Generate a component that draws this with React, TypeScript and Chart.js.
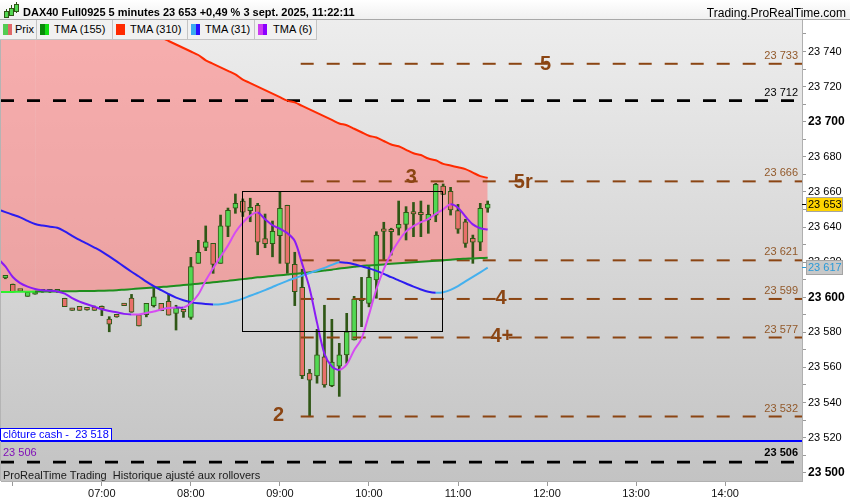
import React, { useEffect, useRef } from 'react';
import { Chart, registerables } from 'chart.js';

Chart.register(...registerables);

const FONT = "'Liberation Sans', Arial, Helvetica, sans-serif";

// 5-minute bar index: 0 = 06:00, 12 = 07:00 ...
const barIndex = [-2, -1, 0, 1, 2, 3, 4, 5, 6, 7, 8, 9, 10, 11, 12, 13, 14, 15, 16, 17, 18, 19, 20, 21, 22, 23, 24, 25, 26, 27, 28, 29, 30, 31, 32, 33, 34, 35, 36, 37, 38, 39, 40, 41, 42, 43, 44, 45, 46, 47, 48, 49, 50, 51, 52, 53, 54, 55, 56, 57, 58, 59, 60, 61, 62, 63, 64];

const opens = [23612.5, 23611.0, 23607.4, 23603.9, 23600.5, 23601.7, 23603.0, 23603.2, 23603.0, 23599.4, 23593.7, 23594.8, 23593.0, 23594.4, 23593.6, 23587.6, 23589.0, 23596.3, 23599.5, 23590.0, 23590.0, 23595.2, 23596.5, 23597.7, 23590.8, 23592.0, 23588.5, 23619.3, 23628.4, 23630.7, 23619.3, 23640.4, 23650.7, 23654.8, 23649.3, 23652.4, 23633.4, 23630.5, 23635.0, 23652.4, 23618.7, 23605.6, 23556.7, 23555.1, 23566.0, 23549.6, 23560.7, 23567.1, 23575.6, 23598.8, 23596.5, 23609.8, 23637.9, 23638.7, 23639.3, 23641.5, 23647.8, 23647.4, 23644.0, 23646.8, 23663.3, 23660.3, 23649.3, 23643.0, 23633.6, 23631.3, 23650.8];
const highs = [23613.0, 23611.5, 23607.5, 23604.0, 23602.8, 23603.0, 23603.5, 23603.5, 23603.5, 23599.4, 23593.7, 23594.8, 23593.2, 23595.0, 23595.0, 23588.9, 23589.2, 23596.3, 23601.6, 23590.0, 23596.5, 23606.0, 23596.5, 23601.7, 23595.4, 23592.7, 23622.7, 23632.4, 23640.6, 23630.7, 23646.8, 23650.8, 23658.8, 23656.0, 23656.4, 23653.5, 23647.4, 23643.4, 23660.1, 23652.4, 23625.6, 23615.9, 23558.9, 23581.7, 23595.4, 23587.4, 23573.7, 23590.8, 23600.5, 23611.3, 23617.4, 23637.3, 23642.7, 23639.3, 23654.8, 23651.6, 23654.0, 23654.8, 23652.5, 23664.9, 23664.5, 23662.6, 23652.9, 23644.4, 23635.4, 23653.5, 23654.8];
const lows = [23610.8, 23610.5, 23603.0, 23603.3, 23600.5, 23601.7, 23602.8, 23602.7, 23602.8, 23594.6, 23592.5, 23592.5, 23592.6, 23592.5, 23589.5, 23580.3, 23588.6, 23595.2, 23591.4, 23583.6, 23588.8, 23594.4, 23592.3, 23589.8, 23581.3, 23588.5, 23587.4, 23619.3, 23626.5, 23613.6, 23619.3, 23634.5, 23647.8, 23646.0, 23643.0, 23624.2, 23628.2, 23623.0, 23619.3, 23613.6, 23595.2, 23553.6, 23531.9, 23551.0, 23548.7, 23549.0, 23543.5, 23562.3, 23575.6, 23583.2, 23594.5, 23599.4, 23621.2, 23624.0, 23635.4, 23632.6, 23634.5, 23634.5, 23636.4, 23643.0, 23658.6, 23646.8, 23636.4, 23628.4, 23619.3, 23626.5, 23648.4];
const closes = [23611.2, 23611.0, 23603.0, 23603.5, 23602.8, 23603.0, 23603.2, 23603.0, 23603.3, 23594.6, 23592.5, 23592.5, 23592.8, 23592.5, 23593.4, 23584.6, 23588.8, 23595.2, 23591.4, 23583.6, 23596.5, 23600.2, 23592.3, 23589.8, 23594.0, 23591.6, 23617.4, 23625.6, 23631.5, 23618.7, 23640.6, 23649.5, 23653.5, 23648.4, 23651.2, 23631.3, 23630.5, 23637.5, 23650.7, 23619.3, 23603.1, 23555.3, 23552.7, 23567.1, 23550.0, 23563.0, 23567.1, 23580.3, 23599.0, 23598.0, 23611.3, 23635.4, 23637.5, 23637.3, 23641.5, 23648.4, 23647.4, 23647.0, 23647.2, 23664.3, 23658.6, 23649.7, 23638.7, 23630.7, 23631.3, 23650.7, 23653.0];

const tma310 = [23797, 23795, 23793, 23791, 23788, 23786, 23784, 23782, 23780, 23777, 23775, 23773, 23771, 23768, 23766, 23764, 23762, 23759, 23757, 23755, 23753, 23751, 23748, 23746, 23744, 23742, 23740, 23738, 23735, 23733, 23731, 23729, 23727, 23724, 23722, 23720, 23718, 23716, 23714, 23712, 23711, 23709, 23707, 23705, 23703, 23701, 23699, 23698, 23696, 23694, 23692, 23691, 23689, 23687, 23686, 23684, 23682, 23681, 23679, 23678, 23676, 23675, 23674, 23673, 23671, 23669, 23668];
const tma155 = [23602.9, 23603.0, 23603.0, 23603.1, 23603.1, 23603.2, 23603.2, 23603.3, 23603.3, 23603.4, 23603.4, 23603.5, 23603.5, 23603.6, 23603.7, 23603.8, 23604.0, 23604.3, 23604.6, 23604.9, 23605.2, 23605.5, 23605.8, 23606.1, 23606.5, 23606.9, 23607.3, 23607.7, 23608.1, 23608.5, 23608.9, 23609.3, 23609.8, 23610.3, 23610.8, 23611.3, 23611.7, 23612.1, 23612.5, 23612.9, 23613.3, 23613.8, 23614.2, 23614.7, 23615.2, 23615.7, 23616.3, 23616.8, 23617.3, 23617.8, 23618.1, 23618.4, 23618.7, 23619.0, 23619.3, 23619.6, 23619.9, 23620.2, 23620.5, 23620.8, 23621.1, 23621.4, 23621.7, 23621.9, 23622.1, 23622.3, 23622.5];
const tma31 = [23650.0, 23648.5, 23647.0, 23645.5, 23643.5, 23641.7, 23640.8, 23640.2, 23639.6, 23637.5, 23635.0, 23632.6, 23630.5, 23628.3, 23626.0, 23623.3, 23620.4, 23617.4, 23614.5, 23611.8, 23608.9, 23606.3, 23604.0, 23601.8, 23599.8, 23598.3, 23597.2, 23596.5, 23596.1, 23595.9, 23596.0, 23596.7, 23597.8, 23599.2, 23600.8, 23602.4, 23604.0, 23605.8, 23607.6, 23609.3, 23610.8, 23612.3, 23613.8, 23615.2, 23616.7, 23618.4, 23619.9, 23619.6, 23618.8, 23617.6, 23616.4, 23615.0, 23613.3, 23611.4, 23609.6, 23607.8, 23606.0, 23604.4, 23603.1, 23602.5, 23602.8, 23604.2, 23606.3, 23609.0, 23611.6, 23614.2, 23616.8];
const tma6 = [23622.0, 23617.5, 23611.5, 23608.0, 23606.0, 23604.7, 23604.0, 23603.7, 23603.3, 23602.0, 23599.5, 23597.5, 23596.0, 23594.6, 23593.1, 23592.1, 23591.4, 23590.5, 23590.2, 23590.2, 23591.0, 23591.8, 23593.0, 23593.8, 23594.2, 23594.1, 23596.7, 23601.5, 23609.5, 23616.5, 23623.0, 23629.5, 23637.0, 23642.5, 23646.5, 23648.3, 23644.4, 23641.0, 23639.0, 23636.5, 23632.0, 23619.0, 23605.0, 23585.5, 23567.8, 23560.5, 23558.6, 23561.7, 23569.8, 23576.4, 23590.0, 23604.5, 23616.0, 23625.0, 23632.0, 23637.5, 23640.5, 23642.8, 23644.5, 23647.5, 23650.0, 23653.0, 23651.0, 23646.0, 23641.5, 23639.3, 23638.6];

const hourTicks = [0, 12, 24, 36, 48, 60, 72, 84, 96];
const hourLabels = ['06:00', '07:00', '08:00', '09:00', '10:00', '11:00', '12:00', '13:00', '14:00'];
const priceTicks = [23500, 23510, 23520, 23530, 23540, 23550, 23560, 23570, 23580, 23590, 23600, 23610, 23620, 23630, 23640, 23650, 23660, 23670, 23680, 23690, 23700, 23710, 23720, 23730, 23740, 23750];

const brownLevels = [23733, 23666, 23621, 23599, 23577, 23532];
const blackLevels = [23712, 23506];
const cashClose = 23518;
const lastPrice = 23653;
const tma31Last = 23617;
const levelStartBar = 38.8;
const annotationTexts = ['5', '5r', '3', '4', '4+', '2'];
const annotationBars = [71.8, 68.8, 53.7, 65.8, 65.9, 35.8];
const annotationValues = [23732.5, 23665.5, 23668.2, 23599, 23577.5, 23532.7];
const boxBars = [30.9, 57.8];
const boxValues = [23580.7, 23660.3];

const X_MIN = -1.59;
const X_MAX = 106.36;
const Y_MIN = 23495.27;
const Y_MAX = 23757.95;

const GREEN = '#52d852';
const RED = '#e8706a';
const WICK = '#2f5716';
const BROWN = '#8b4513';
const BROWN_TEXT = '#92592a';
const PINK = 'rgba(255,122,122,0.55)';

const fmt = (v: number) => {
  const r = Math.round(v);
  return `${Math.floor(r / 1000)} ${String(r % 1000).padStart(3, '0')}`;
};

const legendItems = [
  { label: 'Prix', colors: ['#52cc52', '#e06868'], left: 0, width: 37, text: 15 },
  { label: 'TMA (155)', colors: ['#0a8a0a', '#12e012'], left: 37, width: 76, text: 17 },
  { label: 'TMA (310)', colors: ['#ff2a00', '#ff2a00'], left: 113, width: 75, text: 17 },
  { label: 'TMA (31)', colors: ['#3aaaf0', '#2a10ff'], left: 188, width: 67, text: 17 },
  { label: 'TMA (6)', colors: ['#cc3cf0', '#8a00ff'], left: 255, width: 62, text: 18 },
];

export default function App() {
  const ref = useRef<HTMLCanvasElement>(null);

  useEffect(() => {
    const canvas = ref.current;
    if (!canvas) return;

    const pts = (arr: number[]) => arr.map((y, i) => ({ x: barIndex[i], y }));
    const up = closes.map((c, i) => c >= opens[i]);

    const levelSets: any[] = [];
    brownLevels.forEach((v) => {
      levelSets.push({
        type: 'line',
        data: [{ x: levelStartBar, y: v }, { x: X_MAX + 2, y: v }],
        borderColor: BROWN,
        borderWidth: 2,
        borderDash: [13, 13],
        pointRadius: 0,
        clip: 0,
        order: 5,
      });
    });
    blackLevels.forEach((v) => {
      levelSets.push({
        type: 'line',
        data: [{ x: X_MIN, y: v }, { x: X_MAX + 2, y: v }],
        borderColor: '#000',
        borderWidth: 2.6,
        borderDash: [13, 13],
        pointRadius: 0,
        clip: 0,
        order: 5,
      });
    });
    levelSets.push({
      type: 'line',
      data: [{ x: X_MIN, y: cashClose }, { x: X_MAX + 2, y: cashClose }],
      borderColor: '#0000ff',
      borderWidth: 2,
      pointRadius: 0,
      clip: 0,
      order: 5,
    });

    const bgPlugin = {
      id: 'bg',
      beforeDraw(chart: any) {
        const { ctx, chartArea, width, height } = chart;
        const { left, top, right, bottom } = chartArea;
        ctx.save();
        ctx.fillStyle = '#ffffff';
        ctx.fillRect(0, 0, width, height);
        const g = ctx.createLinearGradient(0, top, 0, bottom);
        g.addColorStop(0, '#ededed');
        g.addColorStop(1, '#c3c3c3');
        ctx.fillStyle = g;
        ctx.fillRect(left, top, right - left, bottom - top);
        ctx.fillStyle = '#b4b4b4';
        ctx.fillRect(0, top, 1, bottom - top);
        ctx.restore();
      },
    };

    const overlayPlugin = {
      id: 'overlay',
      afterDraw(chart: any) {
        const { ctx, chartArea } = chart;
        const xs = chart.scales.x;
        const ys = chart.scales.y;
        const { left, right, bottom } = chartArea;
        ctx.save();

        // rectangle
        const rx0 = Math.round(xs.getPixelForValue(boxBars[0])) + 0.5;
        const rx1 = Math.round(xs.getPixelForValue(boxBars[1])) + 0.5;
        const ry0 = Math.round(ys.getPixelForValue(boxValues[1])) + 0.5;
        const ry1 = Math.round(ys.getPixelForValue(boxValues[0])) + 0.5;
        ctx.strokeStyle = '#000';
        ctx.lineWidth = 1;
        ctx.strokeRect(rx0, ry0, rx1 - rx0, ry1 - ry0);

        // level labels
        ctx.font = `11px ${FONT}`;
        ctx.textAlign = 'right';
        ctx.textBaseline = 'middle';
        ctx.fillStyle = BROWN_TEXT;
        brownLevels.forEach((v) => {
          ctx.fillText(fmt(v), right - 4, ys.getPixelForValue(v) - 8);
        });
        ctx.fillStyle = '#000';
        ctx.fillText(fmt(blackLevels[0]), right - 4, ys.getPixelForValue(blackLevels[0]) - 8);
        ctx.font = `bold 11px ${FONT}`;
        ctx.fillText(fmt(blackLevels[1]), right - 4, ys.getPixelForValue(blackLevels[1]) - 9);
        ctx.font = `11px ${FONT}`;
        ctx.textAlign = 'left';
        ctx.fillStyle = '#8010b8';
        ctx.fillText(fmt(blackLevels[1]), left + 2, ys.getPixelForValue(blackLevels[1]) - 9);

        // cash close box
        const yc = Math.round(ys.getPixelForValue(cashClose));
        ctx.fillStyle = '#ffffff';
        ctx.fillRect(left, yc - 13, 111, 12);
        ctx.strokeStyle = '#0000ff';
        ctx.strokeRect(left - 0.5, yc - 12.5, 111, 12);
        ctx.fillStyle = '#0000ff';
        ctx.fillText(`clôture cash -  ${fmt(cashClose)}`, left + 2, yc - 6);

        // big annotations
        ctx.font = `bold 20px ${FONT}`;
        ctx.textAlign = 'center';
        ctx.fillStyle = BROWN;
        annotationTexts.forEach((t, i) => {
          ctx.fillText(t, xs.getPixelForValue(annotationBars[i]), ys.getPixelForValue(annotationValues[i]));
        });

        // footer
        ctx.font = `11px ${FONT}`;
        ctx.textAlign = 'left';
        ctx.fillStyle = '#1a1a1a';
        ctx.fillText('ProRealTime Trading  Historique ajusté aux rollovers', left + 2, bottom - 5);

        // price boxes on axis
        const drawBox = (v: number, fill: string, txt: string, tick: string) => {
          const y = Math.round(ys.getPixelForValue(v));
          ctx.fillStyle = fill;
          ctx.fillRect(right + 5, y - 6, 35, 13);
          ctx.strokeStyle = '#a4a4a4';
          ctx.lineWidth = 1;
          ctx.strokeRect(right + 4.5, y - 6.5, 36, 14);
          ctx.strokeStyle = tick;
          ctx.beginPath();
          ctx.moveTo(right, y + 0.5);
          ctx.lineTo(right + 4, y + 0.5);
          ctx.stroke();
          ctx.fillStyle = txt;
          ctx.font = `11px ${FONT}`;
          ctx.textAlign = 'left';
          ctx.textBaseline = 'middle';
          ctx.fillText(fmt(v), right + 6, y + 1);
        };
        drawBox(lastPrice, '#ffd400', '#000', '#000');
        drawBox(tma31Last, '#c8c8c8', '#2a9ad8', '#2a9ad8');

        ctx.restore();
      },
    };

    const chart = new Chart(canvas, {
      type: 'bar',
      data: {
        datasets: [
          {
            type: 'line',
            data: pts(tma310),
            borderColor: '#ff2a00',
            borderWidth: 2,
            pointRadius: 0,
            tension: 0.3,
            fill: { target: 1, above: PINK, below: PINK },
            order: 2,
          },
          {
            type: 'line',
            data: pts(tma155),
            borderColor: '#1e8f1e',
            borderWidth: 2,
            pointRadius: 0,
            tension: 0.3,
            segment: {
              borderColor: (c: any) => (c.p0.parsed.x < 3 ? '#2ef02e' : '#1e8f1e'),
            },
            order: 3,
          },
          {
            type: 'line',
            data: pts(tma31),
            borderColor: '#2c1cf0',
            borderWidth: 2,
            pointRadius: 0,
            tension: 0.3,
            segment: {
              borderColor: (c: any) => (c.p1.parsed.y >= c.p0.parsed.y ? '#44b0ee' : '#2c1cf0'),
            },
            order: 1,
          },
          {
            type: 'line',
            data: pts(tma6),
            borderColor: '#8f1ef5',
            borderWidth: 2,
            pointRadius: 0,
            tension: 0.3,
            segment: {
              borderColor: (c: any) => (c.p1.parsed.y >= c.p0.parsed.y ? '#d64cf2' : '#8a1cf5'),
            },
            order: 0,
          },
          ...levelSets,
          {
            type: 'bar',
            data: barIndex.map((x, i) => ({ x, y: [lows[i], highs[i]] })),
            backgroundColor: WICK,
            borderWidth: 0,
            barThickness: 2,
            grouped: false,
            order: 21,
          },
          {
            type: 'bar',
            data: barIndex.map((x, i) => ({ x, y: [opens[i], closes[i]] })),
            backgroundColor: up.map((u) => (u ? GREEN : RED)),
            borderColor: WICK,
            borderWidth: 1,
            borderSkipped: false,
            barThickness: 5,
            minBarLength: 2.5,
            grouped: false,
            order: 20,
          },
        ] as any,
      },
      options: {
        animation: false,
        responsive: false,
        events: [],
        layout: { padding: { top: 20, left: 1, right: 0, bottom: 0 } },
        plugins: {
          legend: { display: false },
          tooltip: { enabled: false },
          filler: { propagate: false, drawTime: 'beforeDatasetsDraw' },
        } as any,
        scales: {
          x: {
            type: 'linear',
            min: X_MIN,
            max: X_MAX,
            offset: false,
            afterBuildTicks: (s: any) => {
              s.ticks = hourTicks.map((value) => ({ value }));
            },
            afterFit: (s: any) => {
              s.height = 19;
            },
            grid: { drawOnChartArea: false, drawTicks: true, tickLength: 5, color: '#9a9a9a', offset: false },
            border: { color: '#b0b0b0' },
            ticks: {
              autoSkip: false,
              maxRotation: 0,
              minRotation: 0,
              padding: 1,
              color: '#111',
              font: { family: FONT, size: 11 },
              callback: (v: any, i: number) => (i === 0 ? '' : hourLabels[hourTicks.indexOf(Number(v))] ?? ''),
            },
          },
          y: {
            type: 'linear',
            position: 'right',
            min: Y_MIN,
            max: Y_MAX,
            afterBuildTicks: (s: any) => {
              s.ticks = priceTicks.map((value) => ({ value }));
            },
            afterFit: (s: any) => {
              s.width = 48;
            },
            grid: { drawOnChartArea: false, drawTicks: true, tickLength: 4, color: '#9a9a9a' },
            border: { color: '#b0b0b0' },
            ticks: {
              autoSkip: false,
              padding: 2,
              color: '#000',
              font: (c: any) =>
                c.tick && c.tick.value % 100 === 0
                  ? { family: FONT, size: 12, weight: 'bold' }
                  : { family: FONT, size: 11 },
              callback: (v: any) => (Number(v) % 20 === 0 ? fmt(Number(v)) : ''),
            },
          },
        },
      } as any,
      plugins: [bgPlugin, overlayPlugin],
    });

    return () => chart.destroy();
  }, []);

  return (
    <div style={{ position: 'fixed', left: 0, top: 0, width: 850, height: 500, overflow: 'hidden', background: '#fff' }}>
      <canvas ref={ref} width={850} height={500} style={{ position: 'absolute', left: 0, top: 0, width: 850, height: 500 }} />
      <div
        style={{
          position: 'absolute',
          left: 0,
          top: 0,
          width: 850,
          height: 19,
          background: 'linear-gradient(#ffffff, #f0f0f0)',
          borderBottom: '1px solid #a8a8a8',
          fontFamily: FONT,
          color: '#000',
        }}
      >
        <div style={{ position: 'absolute', left: 6, top: 9, width: 1, height: 9, background: WICK }} />
        <div style={{ position: 'absolute', left: 4, top: 11, width: 3, height: 5, background: GREEN, border: `1px solid ${WICK}` }} />
        <div style={{ position: 'absolute', left: 11, top: 5, width: 1, height: 11, background: WICK }} />
        <div style={{ position: 'absolute', left: 9, top: 8, width: 3, height: 6, background: GREEN, border: `1px solid ${WICK}` }} />
        <div style={{ position: 'absolute', left: 16, top: 2, width: 1, height: 11, background: WICK }} />
        <div style={{ position: 'absolute', left: 14, top: 4, width: 3, height: 6, background: GREEN, border: `1px solid ${WICK}` }} />
        <span style={{ position: 'absolute', left: 23, top: 2, lineHeight: '20px', fontSize: 11, fontWeight: 'bold', whiteSpace: 'nowrap' }}>
          DAX40 Full0925 5 minutes 23 653 +0,49 % 3 sept. 2025, 11:22:11
        </span>
        <span style={{ position: 'absolute', right: 4, top: 3, lineHeight: '20px', fontSize: 12, whiteSpace: 'nowrap' }}>
          Trading.ProRealTime.com
        </span>
      </div>
      {legendItems.map((it) => (
        <div
          key={it.label}
          style={{
            position: 'absolute',
            left: it.left,
            top: 20,
            width: it.width,
            height: 20,
            boxSizing: 'border-box',
            background: '#f1f1f1',
            borderRight: '1px solid #c4c4c4',
            borderBottom: '1px solid #c4c4c4',
            fontFamily: FONT,
            fontSize: 11,
            color: '#000',
          }}
        >
          <div style={{ position: 'absolute', left: 3, top: 4, width: 4.5, height: 11, background: it.colors[0] }} />
          <div style={{ position: 'absolute', left: 7.5, top: 4, width: 4.5, height: 11, background: it.colors[1] }} />
          <span style={{ position: 'absolute', left: it.text, top: 0, lineHeight: '19px', whiteSpace: 'nowrap' }}>{it.label}</span>
        </div>
      ))}
    </div>
  );
}
